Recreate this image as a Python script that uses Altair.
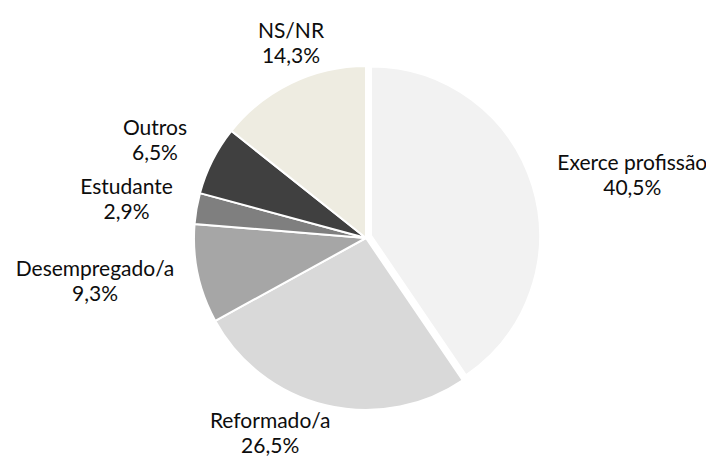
import altair as alt
import pandas as pd

categories = ["Exerce profissão", "Reformado/a", "Desempregado/a", "Estudante", "Outros", "NS/NR"]
values = [40.5, 26.5, 9.3, 2.9, 6.5, 14.3]
colors = ["#F2F2F2", "#D9D9D9", "#A6A6A6", "#7F7F7F", "#404040", "#EEECE1"]

df = pd.DataFrame({"cat": categories, "value": values})
df["end"] = df["value"].cumsum()
df["start"] = df["end"] - df["value"]
df["mid"] = (df["start"] + df["end"]) / 2
df["label"] = [f"{c}\n{v:.1f}".replace(".", ",") + "%" for c, v in zip(categories, values)]

CX, CY, R = 358, 230, 172
EXPLODED = "Exerce profissão"
EX_CX, EX_CY, EX_R = 363, 227.5, 169

theta_scale = alt.Scale(domain=[0, 100])
color_scale = alt.Scale(domain=categories, range=colors)

base = alt.Chart(df)

arcs_main = base.transform_filter(alt.datum.cat != EXPLODED).mark_arc(
    outerRadius=R, stroke="white", strokeWidth=2
).encode(
    theta=alt.Theta("start:Q", scale=theta_scale),
    theta2="end:Q",
    color=alt.Color("cat:N", scale=color_scale, legend=None),
    x=alt.value(CX),
    y=alt.value(CY),
)

arc_ex = base.transform_filter(alt.datum.cat == EXPLODED).mark_arc(
    outerRadius=EX_R, stroke="white", strokeWidth=2
).encode(
    theta=alt.Theta("start:Q", scale=theta_scale),
    theta2="end:Q",
    color=alt.Color("cat:N", scale=color_scale, legend=None),
    x=alt.value(EX_CX),
    y=alt.value(EX_CY),
)

# label layout: radius from centre along mid-angle, plus small nudges
label_layout = {
    "Exerce profissão": (265, 13, 4),
    "Reformado/a": (205, -48, -15),
    "Desempregado/a": (272, -5, -25),
    "Estudante": (240, -3, -9),
    "Outros": (232, -4, -4),
    "NS/NR": (205, 14, -21),
}

label_layers = []
for cat in categories:
    r, dx, dy = label_layout[cat]
    label_layers.append(
        base.transform_filter(alt.datum.cat == cat).mark_text(
            radius=r, dx=dx, dy=dy, align="center", baseline="middle",
            font="Lato", fontSize=21, lineHeight=25, lineBreak="\n", color="#0d0d0d"
        ).encode(
            theta=alt.Theta("mid:Q", scale=theta_scale),
            text="label:N",
            x=alt.value(CX),
            y=alt.value(CY),
        )
    )

chart = alt.layer(arcs_main, arc_ex, *label_layers).properties(
    width=698, height=448, autosize=alt.AutoSizeParams(type="none"), padding=0
).configure_view(stroke=None)

chart.save("out.html", embed_options={"renderer": "svg", "actions": False})
